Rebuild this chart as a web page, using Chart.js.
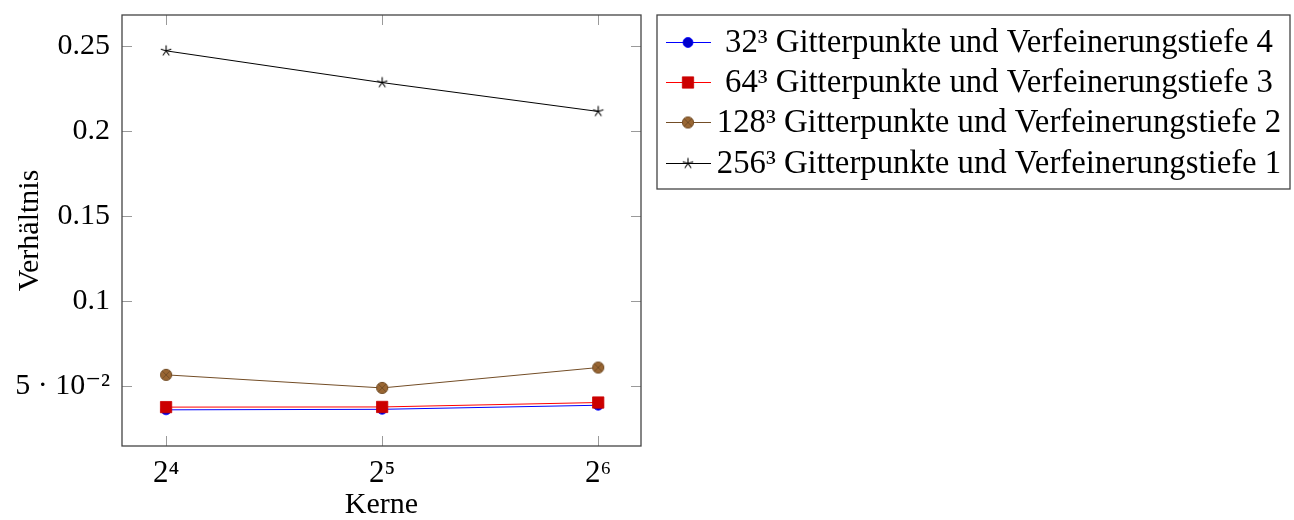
<!DOCTYPE html>
<html>
<head>
<meta charset="utf-8">
<script src="https://cdn.jsdelivr.net/npm/chart.js@4.4.0/dist/chart.umd.min.js"></script>
<style>
  body { margin: 0; background: #fff; }
</style>
</head>
<body>
<canvas id="chart" width="1294" height="520"></canvas>
<script>
// Kerne (x) und Verhältnis (y) je Konfiguration
const cores = [16, 32, 64];
const ratio32 = [0.0358, 0.0361, 0.0385];
const ratio64 = [0.0374, 0.0375, 0.0401];
const ratio128 = [0.0564, 0.0487, 0.0607];
const ratio256 = [0.2472, 0.2285, 0.2115];

const seriesLabels = [
    '32³ Gitterpunkte und Verfeinerungstiefe 4',
    '64³ Gitterpunkte und Verfeinerungstiefe 3',
    '128³ Gitterpunkte und Verfeinerungstiefe 2',
    '256³ Gitterpunkte und Verfeinerungstiefe 1'
];
const yTicks = [0.05, 0.1, 0.15, 0.2, 0.25];
const xTicks = [16, 32, 64];

const SERIF = "'Liberation Serif', 'DejaVu Serif', serif";
const supMap = {'-': '⁻', '0': '⁰', '1': '¹', '2': '²', '3': '³', '4': '⁴', '5': '⁵', '6': '⁶', '7': '⁷', '8': '⁸', '9': '⁹'};
const sup = s => String(s).split('').map(c => supMap[c] || c).join('');

// marker: brauner Kreis mit Kreuz (otimes)
function otimesMark() {
    const c = document.createElement('canvas');
    c.width = 14; c.height = 14;
    const g = c.getContext('2d');
    g.beginPath();
    g.arc(7, 7, 5.6, 0, Math.PI * 2);
    g.fillStyle = '#996633';
    g.fill();
    g.lineWidth = 1;
    g.strokeStyle = '#734d26';
    g.stroke();
    g.beginPath();
    const d = 3.9;
    g.moveTo(7 - d, 7 - d); g.lineTo(7 + d, 7 + d);
    g.moveTo(7 + d, 7 - d); g.lineTo(7 - d, 7 + d);
    g.stroke();
    return c;
}

// marker: Stern mit 5 Armen
function starMark() {
    const c = document.createElement('canvas');
    c.width = 14; c.height = 14;
    const g = c.getContext('2d');
    g.strokeStyle = '#000';
    g.lineWidth = 1.1;
    g.beginPath();
    for (let i = 0; i < 5; i++) {
        const a = -Math.PI / 2 + i * 2 * Math.PI / 5;
        g.moveTo(7, 7);
        g.lineTo(7 + 5.5 * Math.cos(a), 7 + 5.5 * Math.sin(a));
    }
    g.stroke();
    return c;
}

const toPoints = arr => arr.map((v, i) => ({x: cores[i], y: v}));

const datasets = [
    {
        label: seriesLabels[0], data: toPoints(ratio32), order: 4,
        borderColor: '#0000ff', backgroundColor: '#0000cc', borderWidth: 1,
        pointStyle: 'circle', pointRadius: 5, pointBorderColor: '#0000ff', pointBorderWidth: 0.8
    },
    {
        label: seriesLabels[1], data: toPoints(ratio64), order: 3,
        borderColor: '#ff0000', backgroundColor: '#cc0000', borderWidth: 1,
        pointStyle: 'rect', pointRadius: 8, pointBorderColor: '#cc0000', pointBorderWidth: 0.8
    },
    {
        label: seriesLabels[2], data: toPoints(ratio128), order: 2,
        borderColor: '#734d26', backgroundColor: '#996633', borderWidth: 1,
        pointStyle: otimesMark(), pointRadius: 6
    },
    {
        label: seriesLabels[3], data: toPoints(ratio256), order: 1,
        borderColor: '#000000', backgroundColor: '#000000', borderWidth: 1,
        pointStyle: starMark(), pointRadius: 6
    }
];

// Rahmen und Tickstriche nach innen (pgfplots-Stil)
const framePlugin = {
    id: 'frame',
    beforeDatasetsDraw(chart) {
        const {ctx, chartArea: a, scales: {x, y}} = chart;
        const tl = 10;
        ctx.save();
        ctx.strokeStyle = '#9a9a9a';
        ctx.lineWidth = 1;
        ctx.beginPath();
        x.ticks.forEach(t => {
            const px = Math.round(x.getPixelForValue(t.value)) + 0.5;
            ctx.moveTo(px, a.bottom); ctx.lineTo(px, a.bottom - tl);
            ctx.moveTo(px, a.top); ctx.lineTo(px, a.top + tl);
        });
        y.ticks.forEach(t => {
            const py = Math.round(y.getPixelForValue(t.value)) + 0.5;
            ctx.moveTo(a.left, py); ctx.lineTo(a.left + tl, py);
            ctx.moveTo(a.right, py); ctx.lineTo(a.right - tl, py);
        });
        ctx.stroke();
        ctx.strokeStyle = '#444';
        ctx.lineWidth = 1.3;
        ctx.strokeRect(a.left, a.top, a.right - a.left, a.bottom - a.top);
        ctx.restore();
    }
};

// Legende im Kasten rechts neben dem Diagramm
const legendPlugin = {
    id: 'boxLegend',
    afterDraw(chart) {
        const ctx = chart.ctx;
        const box = {left: 657, top: 15, right: 1290, bottom: 189};
        const rowY = [42, 82, 122, 163];
        const textCenter = 999;
        ctx.save();
        ctx.fillStyle = '#fff';
        ctx.fillRect(box.left, box.top, box.right - box.left, box.bottom - box.top);
        ctx.strokeStyle = '#444';
        ctx.lineWidth = 1.3;
        ctx.strokeRect(box.left, box.top, box.right - box.left, box.bottom - box.top);

        ctx.font = '30px ' + SERIF;
        const w = ctx.measureText(seriesLabels[0]).width;
        const size = 30 * 548 / w;
        chart.data.datasets.forEach((ds, i) => {
            const yy = rowY[i];
            ctx.strokeStyle = ds.borderColor;
            ctx.lineWidth = 1;
            ctx.beginPath();
            ctx.moveTo(666, yy + 0.5); ctx.lineTo(711, yy + 0.5);
            ctx.stroke();
            ctx.fillStyle = ds.backgroundColor;
            ctx.strokeStyle = ds.pointBorderColor || ds.borderColor;
            ctx.lineWidth = ds.pointBorderWidth || 0;
            Chart.helpers.drawPoint(ctx, {
                pointStyle: ds.pointStyle, radius: ds.pointRadius, rotation: 0,
                borderWidth: ds.pointBorderWidth || 0
            }, 688, yy + 0.5);
            ctx.fillStyle = '#000';
            ctx.font = size.toFixed(2) + 'px ' + SERIF;
            ctx.textAlign = 'center';
            ctx.textBaseline = 'middle';
            ctx.fillText(ds.label, textCenter, yy + 1);
        });
        ctx.restore();
    }
};

new Chart(document.getElementById('chart').getContext('2d'), {
    type: 'line',
    data: {datasets},
    options: {
        responsive: false,
        animation: false,
        devicePixelRatio: 1,
        layout: {padding: {top: 15, right: 653, left: 0, bottom: 0}},
        plugins: {legend: {display: false}, tooltip: {enabled: false}},
        elements: {line: {tension: 0, fill: false}},
        scales: {
            x: {
                type: 'logarithmic',
                min: Math.pow(2, 3.796),
                max: Math.pow(2, 6.198),
                grid: {display: false, drawTicks: false},
                border: {display: false},
                afterBuildTicks: s => { s.ticks = xTicks.map(v => ({value: v})); },
                afterFit: s => { s.height = 74; s.paddingLeft = 0; s.paddingRight = 0; },
                ticks: {
                    padding: 9,
                    color: '#000',
                    font: {family: SERIF, size: 31},
                    callback: v => '2' + sup(Math.round(Math.log2(v)))
                },
                title: {
                    display: true, text: 'Kerne', color: '#000',
                    font: {family: SERIF, size: 30, lineHeight: 1},
                    padding: {top: 0, bottom: 0}
                }
            },
            y: {
                type: 'linear',
                min: 0.0145,
                max: 0.2683,
                grid: {display: false, drawTicks: false},
                border: {display: false},
                afterBuildTicks: s => { s.ticks = yTicks.map(v => ({value: v})); },
                afterFit: s => { s.width = 122; s.paddingTop = 0; s.paddingBottom = 0; },
                ticks: {
                    padding: 12,
                    color: '#000',
                    font: {family: SERIF, size: 30},
                    callback: v => v === 0.05 ? '5 · 10' + sup(-2) : String(v)
                },
                title: {
                    display: true, text: 'Verhältnis', color: '#000',
                    font: {family: SERIF, size: 30, lineHeight: 1.2},
                    padding: {top: 12, bottom: 0}
                }
            }
        }
    },
    plugins: [framePlugin, legendPlugin]
});
</script>
</body>
</html>
